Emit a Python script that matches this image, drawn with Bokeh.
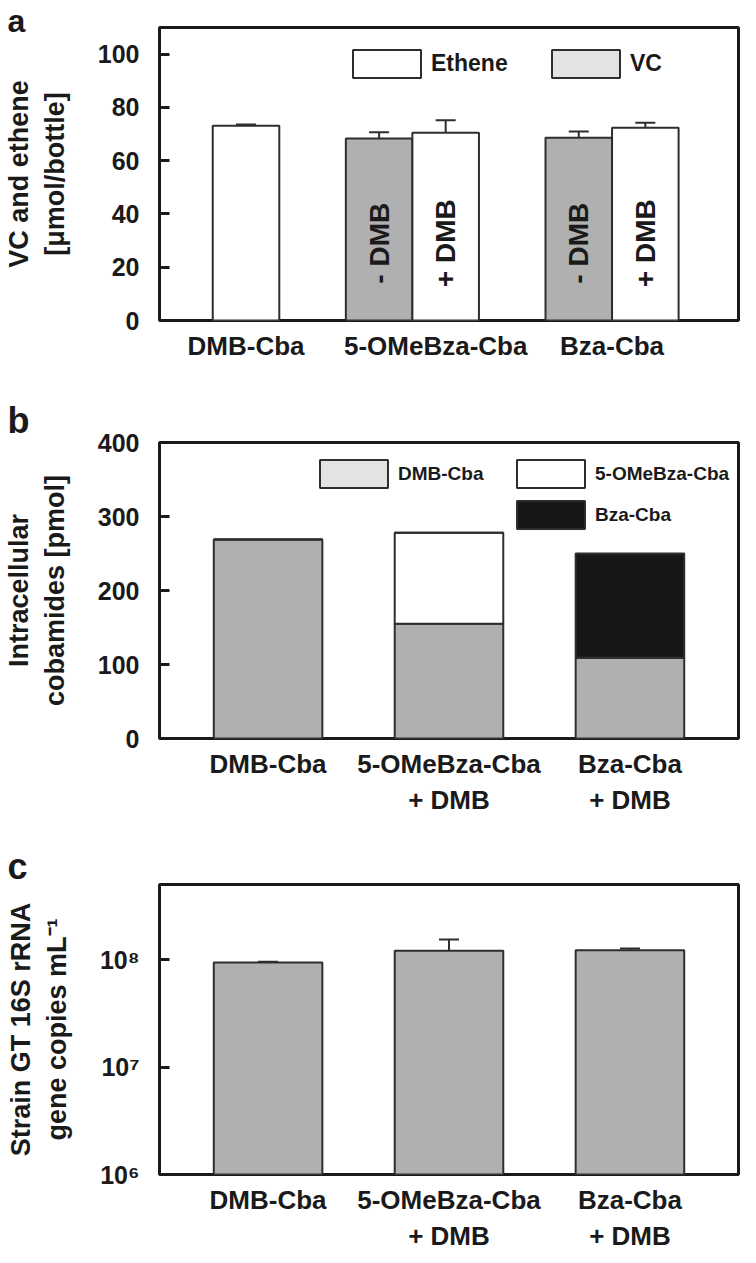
import math
from bokeh.plotting import figure
from bokeh.layouts import column
from bokeh.models import (ColumnDataSource, FixedTicker, Whisker, TeeHead, Legend,
                          LegendItem, Range1d, Title)
from bokeh.core.properties import value
from bokeh.embed import file_html
from bokeh.resources import INLINE

# ---------------- data ----------------
# panel a: VC and ethene per bottle
a_groups = ["DMB-Cba", "5-OMeBza-Cba", "Bza-Cba"]
a_bar_group = ["DMB-Cba", "5-OMeBza-Cba", "5-OMeBza-Cba", "Bza-Cba", "Bza-Cba"]
a_bar_cond = ["", "- DMB", "+ DMB", "- DMB", "+ DMB"]
a_bar_product = ["Ethene", "VC", "Ethene", "VC", "Ethene"]
a_bar_value = [73.1, 68.3, 70.5, 68.6, 72.4]
a_bar_err = [0.5, 2.4, 4.7, 2.4, 1.8]
a_yticks = [0, 20, 40, 60, 80, 100]

# panel b: intracellular cobamides (stacked)
b_categories = ["DMB-Cba", "5-OMeBza-Cba\n+ DMB", "Bza-Cba\n+ DMB"]
b_species = ["DMB-Cba", "5-OMeBza-Cba", "Bza-Cba"]
b_dmb = [269, 155, 109]
b_ome = [0, 123, 0]
b_bza = [0, 0, 141]
b_yticks = [0, 100, 200, 300, 400]

# panel c: strain GT 16S rRNA gene copies
c_categories = ["DMB-Cba", "5-OMeBza-Cba\n+ DMB", "Bza-Cba\n+ DMB"]
c_value = [9.4e7, 1.21e8, 1.22e8]
c_err = [1.5e6, 3.3e7, 5.0e6]
c_yticks = [1e6, 1e7, 1e8]
c_ytick_labels = ["10\u2076", "10\u2077", "10\u2078"]

# ---------------- style / layout ----------------
FONT = "Liberation Sans"
INK = "#1a1a1a"
EDGE = "#2e2e2e"
GRAY = "#b0b0b0"
LIGHT = "#e3e3e3"
BLACK = "#171717"
W = 740
FL = 155
FR = 2
FW = W - FL - FR
NAN = float("nan")
GW, GH = 85, 35          # legend glyph box (swatch is drawn 10% inset -> 68 x 28)


def base_fig(height, top, bottom, x_range, y_range, y_axis_type="linear"):
    p = figure(width=W, height=height, x_range=x_range, y_range=y_range,
               y_axis_type=y_axis_type, output_backend="svg", toolbar_location=None,
               min_border_left=FL, min_border_right=FR, min_border_top=top,
               min_border_bottom=bottom)
    p.grid.visible = False
    p.outline_line_color = INK
    p.outline_line_width = 3
    for ax in (p.xaxis[0], p.yaxis[0]):
        ax.axis_line_color = None
        ax.minor_tick_line_color = None
        ax.major_label_text_font = FONT
        ax.major_label_text_font_style = "bold"
        ax.major_label_text_color = INK
        ax.axis_label_text_font = FONT
        ax.axis_label_text_font_style = "bold"
        ax.axis_label_text_color = INK
    xa = p.xaxis[0]
    xa.major_tick_line_color = None
    xa.major_tick_in = 0
    xa.major_tick_out = 0
    xa.major_label_text_font_size = "26px"
    xa.major_label_standoff = 10
    ya = p.yaxis[0]
    ya.major_tick_in = 10
    ya.major_tick_out = 0
    ya.major_tick_line_width = 3
    ya.major_tick_line_color = INK
    ya.major_label_text_font_size = "25px"
    ya.major_label_standoff = 20
    ya.axis_label_text_font_size = "27px"
    ya.axis_label_standoff = 25
    return p


def add_title_letter(p, text, standoff, size="36px"):
    p.add_layout(Title(text=text, align="left", offset=-(FL - 3), standoff=standoff,
                       vertical_align="bottom", text_font=FONT, text_font_style="bold",
                       text_font_size=size, text_color=INK), "above")


def add_legend(p, label, renderer, x0, top, frame_h, size):
    lg = Legend(items=[LegendItem(label=label, renderers=[renderer])],
                location=(x0, frame_h - top - GH),
                orientation="horizontal", glyph_width=GW, glyph_height=GH,
                label_standoff=2, padding=0, margin=0, spacing=0, label_height=GH,
                border_line_color=None, background_fill_alpha=0,
                label_text_font=FONT, label_text_font_style="bold",
                label_text_font_size=size, label_text_color=INK)
    p.add_layout(lg)


def swatch(p, fill):
    # legend-only glyph: a single undefined (NaN) bar, nothing is drawn in the plot
    return p.vbar(x=[NAN], top=[NAN], width=1, fill_color=fill, line_color=EDGE,
                  line_width=2)


# ================= panel a =================
HA, TA, BA = 375, 27, 55
FHA = HA - TA - BA
a_xr = (0, 8.7)
a_yr = (0, 110)
a_group_x = {"DMB-Cba": 1.3, "5-OMeBza-Cba": 3.8, "Bza-Cba": 6.8}
a_label_x = [1.3, 4.15, 6.8]
a_cond_off = {"": 0.0, "- DMB": -0.5, "+ DMB": 0.5}
a_fill = {"Ethene": "white", "VC": GRAY}

pa = base_fig(HA, TA, BA, Range1d(*a_xr), Range1d(*a_yr))
a_x = [a_group_x[g] + a_cond_off[c] for g, c in zip(a_bar_group, a_bar_cond)]
src_a = ColumnDataSource(dict(
    x=a_x, top=a_bar_value, fill=[a_fill[p_] for p_ in a_bar_product],
    upper=[v + e for v, e in zip(a_bar_value, a_bar_err)],
    lower=[v - e for v, e in zip(a_bar_value, a_bar_err)]))
pa.vbar(x="x", top="top", bottom=0, width=1.0, fill_color="fill", line_color=EDGE,
        line_width=2, source=src_a)
pa.add_layout(Whisker(source=src_a, base="x", upper="upper", lower="lower",
                      line_color=EDGE, line_width=2,
                      upper_head=TeeHead(size=20, line_color=EDGE, line_width=2),
                      lower_head=TeeHead(size=20, line_color=EDGE, line_width=2)))
cond_rows = [i for i, c in enumerate(a_bar_cond) if c]
src_cond = ColumnDataSource(dict(x=[a_x[i] for i in cond_rows],
                                 y=[29.0] * len(cond_rows),
                                 t=[a_bar_cond[i] for i in cond_rows]))
pa.text(x="x", y="y", text="t", angle=math.pi / 2, text_font=value(FONT),
        text_font_style="bold", text_font_size="28px", text_align="center",
        text_baseline="middle", text_color=INK, source=src_cond)
pa.yaxis[0].ticker = FixedTicker(ticks=a_yticks)
pa.yaxis[0].axis_label = "VC and ethene\n[\u03bcmol/bottle]"
pa.xaxis[0].ticker = FixedTicker(ticks=a_label_x)
pa.xaxis[0].major_label_overrides = {x: g for x, g in zip(a_label_x, a_groups)}
add_legend(pa, "Ethene", swatch(pa, "white"), 185, 19, FHA, "23px")
add_legend(pa, "VC", swatch(pa, LIGHT), 384, 19, FHA, "23px")
add_title_letter(pa, "a", -23, "32px")

# ================= panel b =================
HB, TB, BB = 443, 67, 80
FHB = HB - TB - BB
bc_xr = (0.4, 3.6)
b_yr = (0, 400)
bc_x = [1, 2, 3]
pb = base_fig(HB, TB, BB, Range1d(*bc_xr), Range1d(*b_yr))
src_b = ColumnDataSource(dict(x=bc_x, dmb=b_dmb, ome=b_ome, bza=b_bza))
pb.vbar_stack(["dmb", "ome", "bza"], x="x", width=0.6, fill_color=[GRAY, "white", BLACK],
              line_color=EDGE, line_width=2, source=src_b)
pb.yaxis[0].ticker = FixedTicker(ticks=b_yticks)
pb.yaxis[0].axis_label = "Intracellular\ncobamides [pmol]"
pb.xaxis[0].ticker = FixedTicker(ticks=bc_x)
pb.xaxis[0].major_label_overrides = {x: c for x, c in zip(bc_x, b_categories)}
sw_fill = [LIGHT, "white", BLACK]
sw_pos = [(152, 14), (349, 14), (349, 55)]
for name, fc, (lx, lt) in zip(b_species, sw_fill, sw_pos):
    add_legend(pb, name, swatch(pb, fc), lx, lt, FHB, "19px")
add_title_letter(pb, "b", 4)

# ================= panel c =================
HC, TC, BC = 436, 66, 80
FHC = HC - TC - BC
c_yr = (1e6, 5e8)
pc = base_fig(HC, TC, BC, Range1d(*bc_xr), Range1d(*c_yr), y_axis_type="log")
src_c = ColumnDataSource(dict(x=bc_x, top=c_value,
                              upper=[v + e for v, e in zip(c_value, c_err)],
                              lower=[v - e for v, e in zip(c_value, c_err)]))
pc.vbar(x="x", top="top", bottom=c_yr[0], width=0.6, fill_color=GRAY, line_color=EDGE,
        line_width=2, source=src_c)
pc.add_layout(Whisker(source=src_c, base="x", upper="upper", lower="lower",
                      line_color=EDGE, line_width=2,
                      upper_head=TeeHead(size=20, line_color=EDGE, line_width=2),
                      lower_head=TeeHead(size=20, line_color=EDGE, line_width=2)))
pc.yaxis[0].ticker = FixedTicker(ticks=c_yticks)
pc.yaxis[0].major_label_overrides = {t: s for t, s in zip(c_yticks, c_ytick_labels)}
pc.yaxis[0].axis_label = "Strain GT 16S rRNA\ngene copies mL\u207b\u00b9"
pc.xaxis[0].ticker = FixedTicker(ticks=bc_x)
pc.xaxis[0].major_label_overrides = {x: c for x, c in zip(bc_x, c_categories)}
add_title_letter(pc, "c", -4)

layout = column(pa, pb, pc)
open("out.html", "w").write(file_html(layout, INLINE))
